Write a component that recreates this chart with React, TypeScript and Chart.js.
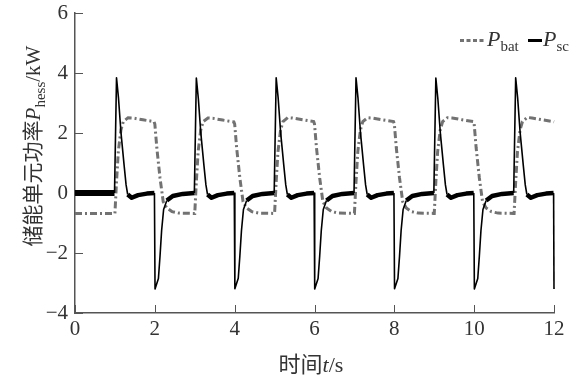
import React, { useEffect, useRef } from "react";
import { Chart, registerables } from "chart.js";
Chart.register(...registerables);

// ---- data ----
const xTicks = [0, 2, 4, 6, 8, 10, 12];
const yTicks = [-4, -2, 0, 2, 4, 6];

// P_sc (supercapacitor power, kW)
const tSc = [
  0, 0.99,
  1.04, 1.09, 1.15, 1.23, 1.28, 1.32, 1.42, 1.58, 1.8, 1.99, 2.005, 2.09, 2.13, 2.17, 2.22, 2.3, 2.45, 2.7, 2.99,
  3.04, 3.09, 3.15, 3.23, 3.28, 3.32, 3.42, 3.58, 3.8, 3.99, 4.005, 4.09, 4.13, 4.17, 4.22, 4.3, 4.45, 4.7, 4.99,
  5.04, 5.09, 5.15, 5.23, 5.28, 5.32, 5.42, 5.58, 5.8, 5.99, 6.005, 6.09, 6.13, 6.17, 6.22, 6.3, 6.45, 6.7, 6.99,
  7.04, 7.09, 7.15, 7.23, 7.28, 7.32, 7.42, 7.58, 7.8, 7.99, 8.005, 8.09, 8.13, 8.17, 8.22, 8.3, 8.45, 8.7, 8.99,
  9.04, 9.09, 9.15, 9.23, 9.28, 9.32, 9.42, 9.58, 9.8, 9.99, 10.005, 10.09, 10.13, 10.17, 10.22, 10.3, 10.45, 10.7, 10.99,
  11.04, 11.09, 11.15, 11.23, 11.28, 11.32, 11.42, 11.58, 11.8, 11.99, 12.0,
];
const pSc = [
  0, 0,
  3.84, 3.16, 2.04, 0.93, 0.27, -0.05, -0.16, -0.07, -0.02, 0, -3.2, -2.85, -2.1, -1.25, -0.55, -0.25, -0.1, -0.03, 0,
  3.83, 3.15, 2.03, 0.92, 0.27, -0.05, -0.16, -0.07, -0.02, 0, -3.19, -2.84, -2.1, -1.26, -0.55, -0.25, -0.1, -0.03, 0,
  3.84, 3.16, 2.04, 0.93, 0.27, -0.05, -0.16, -0.07, -0.02, 0, -3.2, -2.85, -2.1, -1.25, -0.55, -0.25, -0.1, -0.03, 0,
  3.84, 3.16, 2.04, 0.93, 0.27, -0.05, -0.16, -0.07, -0.02, 0, -3.19, -2.85, -2.11, -1.25, -0.55, -0.25, -0.1, -0.03, 0,
  3.83, 3.15, 2.04, 0.93, 0.27, -0.05, -0.16, -0.07, -0.02, 0, -3.2, -2.85, -2.1, -1.25, -0.55, -0.25, -0.1, -0.03, 0,
  3.84, 3.16, 2.04, 0.93, 0.27, -0.05, -0.16, -0.07, -0.02, 0, -3.2,
];

// P_bat (battery power, kW)
const tBat = [
  0,
  1.0, 1.04, 1.085, 1.15, 1.21, 1.33, 1.45, 1.7, 1.98, 2.0, 2.05, 2.13, 2.21, 2.3, 2.43, 2.6, 2.98,
  3.0, 3.04, 3.085, 3.15, 3.21, 3.33, 3.45, 3.7, 3.98, 4.0, 4.05, 4.13, 4.21, 4.3, 4.43, 4.6, 4.98,
  5.0, 5.04, 5.085, 5.15, 5.21, 5.33, 5.45, 5.7, 5.98, 6.0, 6.05, 6.13, 6.21, 6.3, 6.43, 6.6, 6.98,
  7.0, 7.04, 7.085, 7.15, 7.21, 7.33, 7.45, 7.7, 7.98, 8.0, 8.05, 8.13, 8.21, 8.3, 8.43, 8.6, 8.98,
  9.0, 9.04, 9.085, 9.15, 9.21, 9.33, 9.45, 9.7, 9.98, 10.0, 10.05, 10.13, 10.21, 10.3, 10.43, 10.6, 10.98,
  11.0, 11.04, 11.085, 11.15, 11.21, 11.33, 11.45, 11.7, 11.98, 12.0,
];
const pBat = [
  -0.68,
  -0.68, 0.38, 1.38, 2.1, 2.38, 2.51, 2.5, 2.44, 2.38, 2.3, 1.5, 0.5, -0.29, -0.5, -0.62, -0.67, -0.68,
  -0.68, 0.38, 1.38, 2.1, 2.38, 2.5, 2.49, 2.43, 2.37, 2.3, 1.5, 0.5, -0.29, -0.5, -0.62, -0.67, -0.68,
  -0.68, 0.38, 1.38, 2.1, 2.38, 2.51, 2.5, 2.44, 2.38, 2.3, 1.5, 0.5, -0.29, -0.5, -0.62, -0.67, -0.68,
  -0.68, 0.38, 1.38, 2.1, 2.38, 2.51, 2.5, 2.44, 2.38, 2.3, 1.5, 0.5, -0.29, -0.5, -0.62, -0.67, -0.68,
  -0.68, 0.38, 1.38, 2.1, 2.38, 2.51, 2.5, 2.44, 2.38, 2.3, 1.5, 0.5, -0.29, -0.5, -0.62, -0.67, -0.68,
  -0.68, 0.38, 1.38, 2.1, 2.38, 2.52, 2.5, 2.44, 2.38, 2.37,
];

// ---- styling ----
const SERIF = '"Liberation Serif", "Noto Sans CJK SC", serif';
const TEXT = "#333333";
const AXIS = "#555555";
const BAT_COLOR = "#727272";
const SC_COLOR = "#000000";

type Run = { text: string; font: string; dy?: number };

function runsWidth(ctx: CanvasRenderingContext2D, runs: Run[]) {
  let w = 0;
  for (const r of runs) {
    ctx.font = r.font;
    w += ctx.measureText(r.text).width;
  }
  return w;
}

function drawRuns(ctx: CanvasRenderingContext2D, runs: Run[], x: number, y: number) {
  let cx = x;
  for (const r of runs) {
    ctx.font = r.font;
    ctx.fillText(r.text, cx, y + (r.dy || 0));
    cx += ctx.measureText(r.text).width;
  }
}

const decorPlugin = {
  id: "decor",
  beforeDatasetsDraw(chart: any) {
    const ctx: CanvasRenderingContext2D = chart.ctx;
    const xs = chart.scales.x;
    const ys = chart.scales.y;
    const area = chart.chartArea;
    ctx.save();
    ctx.strokeStyle = AXIS;
    ctx.lineWidth = 1;
    for (const v of xTicks) {
      const px = Math.round(xs.getPixelForValue(v)) + 0.5;
      ctx.beginPath();
      ctx.moveTo(px, area.bottom);
      ctx.lineTo(px, area.bottom - 8);
      ctx.stroke();
    }
    for (const v of yTicks) {
      const py = Math.round(ys.getPixelForValue(v)) + 0.5;
      ctx.beginPath();
      ctx.moveTo(area.left, py);
      ctx.lineTo(area.left + 8, py);
      ctx.stroke();
    }
    ctx.restore();
  },
  afterDraw(chart: any) {
    const ctx: CanvasRenderingContext2D = chart.ctx;
    ctx.save();
    ctx.fillStyle = TEXT;
    ctx.textBaseline = "alphabetic";
    ctx.textAlign = "left";

    // legend
    ctx.strokeStyle = BAT_COLOR;
    ctx.lineWidth = 3;
    ctx.setLineDash([4, 2.5]);
    ctx.beginPath();
    ctx.moveTo(460, 40.5);
    ctx.lineTo(486, 40.5);
    ctx.stroke();
    ctx.setLineDash([]);
    drawRuns(ctx, [
      { text: "P", font: `italic 22px ${SERIF}` },
      { text: "bat", font: `15px ${SERIF}`, dy: 5 },
    ], 487, 46);
    ctx.strokeStyle = SC_COLOR;
    ctx.lineWidth = 3;
    ctx.beginPath();
    ctx.moveTo(528, 40.5);
    ctx.lineTo(542, 40.5);
    ctx.stroke();
    drawRuns(ctx, [
      { text: "P", font: `italic 22px ${SERIF}` },
      { text: "sc", font: `15px ${SERIF}`, dy: 5 },
    ], 543, 46);

    // x title
    const xRuns: Run[] = [
      { text: "时间", font: `22px ${SERIF}` },
      { text: "t", font: `italic 22px ${SERIF}` },
      { text: "/s", font: `22px ${SERIF}` },
    ];
    const xw = runsWidth(ctx, xRuns);
    drawRuns(ctx, xRuns, 311 - xw / 2, 372);

    // y title
    const yRuns: Run[] = [
      { text: "储能单元功率", font: `21px ${SERIF}` },
      { text: "P", font: `italic 21px ${SERIF}` },
      { text: "hess", font: `15px ${SERIF}`, dy: 5 },
      { text: "/kW", font: `21px ${SERIF}` },
    ];
    const yw = runsWidth(ctx, yRuns);
    ctx.translate(40, 146);
    ctx.rotate(-Math.PI / 2);
    drawRuns(ctx, yRuns, -yw / 2, 0);
    ctx.restore();
  },
};

export default function App() {
  const ref = useRef<HTMLCanvasElement | null>(null);

  useEffect(() => {
    if (!ref.current) return;
    const scData = tSc.map((t, i) => ({ x: t, y: pSc[i] }));
    const batData = tBat.map((t, i) => ({ x: t, y: pBat[i] }));
    const tickFont = { family: SERIF, size: 21 };

    const chart = new Chart(ref.current, {
      type: "line",
      data: {
        datasets: [
          {
            label: "Psc",
            data: scData,
            borderColor: SC_COLOR,
            borderWidth: 1.6,
            pointRadius: 0,
            tension: 0,
            clip: false as any,
            borderJoinStyle: "round",
            segment: {
              borderWidth: (c: any) => {
                const a = c.p0.parsed.y;
                const b = c.p1.parsed.y;
                if (Math.abs(a) < 0.26 && Math.abs(b) < 0.26) {
                  return c.p0.parsed.x < 0.995 ? 6 : 4.5;
                }
                return 1.6;
              },
            },
          },
          {
            label: "Pbat",
            data: batData,
            borderColor: BAT_COLOR,
            borderWidth: 3,
            borderDash: [7, 3, 2, 3],
            pointRadius: 0,
            tension: 0,
            clip: false as any,
          },
        ],
      },
      options: {
        animation: false,
        responsive: false,
        devicePixelRatio: 1,
        layout: { padding: { top: 13, right: 28, left: 0, bottom: 0 } },
        plugins: { legend: { display: false }, tooltip: { enabled: false } },
        scales: {
          x: {
            type: "linear",
            min: 0,
            max: 12,
            ticks: { stepSize: 2, font: tickFont, color: TEXT, padding: 4, maxRotation: 0 },
            grid: { display: false, drawTicks: false },
            border: { display: true, color: AXIS, width: 1.5 },
            afterFit: (s: any) => {
              s.height = 67;
              s.paddingLeft = 0;
              s.paddingRight = 0;
            },
          },
          y: {
            type: "linear",
            min: -4,
            max: 6,
            ticks: {
              stepSize: 2,
              font: tickFont,
              color: TEXT,
              padding: 7,
              callback: (v: any) => (Number(v) < 0 ? "−" + Math.abs(Number(v)) : String(v)),
            },
            grid: { display: false, drawTicks: false },
            border: { display: true, color: AXIS, width: 1.5 },
            afterFit: (s: any) => {
              s.width = 75;
              s.paddingTop = 0;
              s.paddingBottom = 0;
            },
          },
        },
      } as any,
      plugins: [decorPlugin as any],
    });
    return () => chart.destroy();
  }, []);

  return (
    <div style={{ position: "fixed", left: 0, top: 0, width: 582, height: 380, background: "#fff" }}>
      <canvas ref={ref} width={582} height={380} style={{ width: 582, height: 380, display: "block" }} />
    </div>
  );
}
